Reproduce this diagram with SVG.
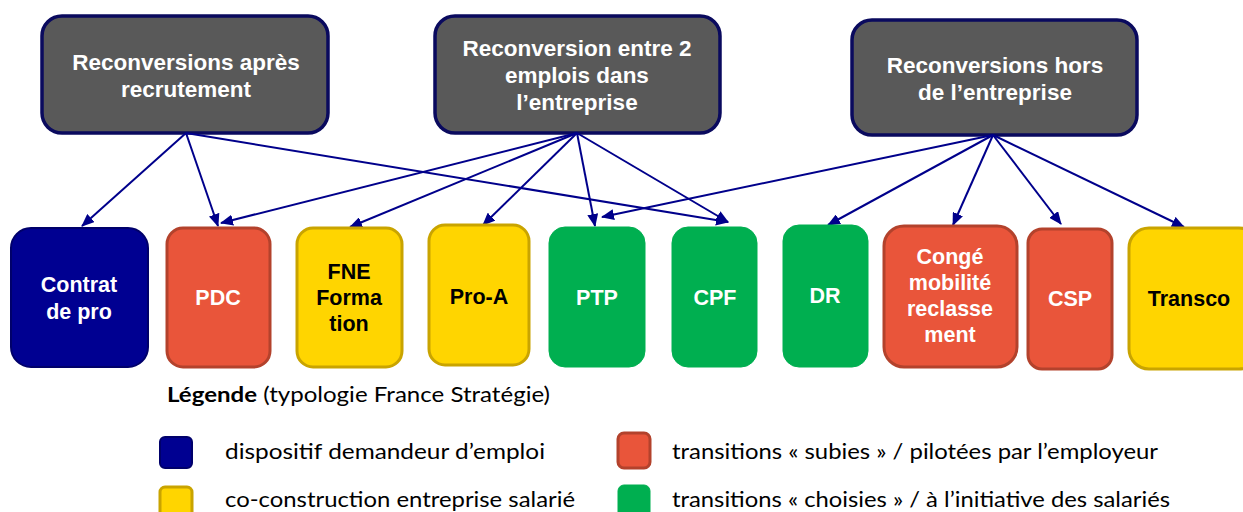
<svg xmlns="http://www.w3.org/2000/svg" width="1243" height="512" viewBox="0 0 1243 512">
<defs>
<marker id="ah" markerWidth="13" markerHeight="11" refX="12" refY="5.5" orient="auto" markerUnits="userSpaceOnUse">
<path d="M0,0 L13,5.5 L0,11 z" fill="#00008B"/>
</marker>
<style>
.top rect{fill:#595959;stroke:#0A0A5E;stroke-width:3.5}
.tt{font-family:"Liberation Sans",Arial,sans-serif;font-weight:bold;font-size:22.5px;fill:#fff;text-anchor:middle}
.bt{font-family:"Liberation Sans",Arial,sans-serif;font-weight:bold;font-size:21.5px;text-anchor:middle}
.w{fill:#fff}.k{fill:#000}
.navy{fill:#000091;stroke:#00006A;stroke-width:2}
.red{fill:#E9553A;stroke:#B3422C;stroke-width:3}
.yel{fill:#FFD500;stroke:#C9A400;stroke-width:3}
.grn{fill:#00AF50;stroke:#00AF50;stroke-width:1}
.conn line{stroke:#00008B;stroke-width:2;marker-end:url(#ah)}
.lg{font-family:Lato,"Open Sans",sans-serif;font-size:21px;fill:#000}
</style>
</defs>

<g id="top1" class="top"><rect x="42" y="16" width="286" height="117" rx="20"/>
<text class="tt" x="186" y="70">Reconversions après</text>
<text class="tt" x="186" y="97">recrutement</text></g>
<g id="top2" class="top"><rect x="435" y="16" width="285" height="117" rx="20"/>
<text class="tt" x="577" y="56">Reconversion entre 2</text>
<text class="tt" x="577" y="83">emplois dans</text>
<text class="tt" x="577" y="110">l’entreprise</text></g>
<g id="top3" class="top"><rect x="852" y="20" width="285" height="115" rx="20"/>
<text class="tt" x="995" y="73">Reconversions hors</text>
<text class="tt" x="995" y="100">de l’entreprise</text></g>

<g id="connectors" class="conn">
<line x1="186" y1="133" x2="82" y2="226"/>
<line x1="186" y1="133" x2="218" y2="226"/>
<line x1="186" y1="133" x2="728" y2="222"/>
<line x1="577" y1="133" x2="221" y2="223"/>
<line x1="577" y1="133" x2="350" y2="227"/>
<line x1="577" y1="133" x2="483" y2="225"/>
<line x1="577" y1="133" x2="595" y2="226"/>
<line x1="577" y1="133" x2="728" y2="222"/>
<line x1="993" y1="135" x2="602" y2="217"/>
<line x1="993" y1="135" x2="828" y2="225"/>
<line x1="993" y1="135" x2="953" y2="225"/>
<line x1="993" y1="135" x2="1061" y2="224"/>
<line x1="993" y1="135" x2="1184" y2="227"/>
</g>

<g id="contrat"><rect class="navy" x="11" y="228" width="137" height="139" rx="20"/>
<text class="bt w" x="79" y="292">Contrat</text><text class="bt w" x="79" y="319">de pro</text></g>
<g id="pdc"><rect class="red" x="167" y="228" width="103" height="139" rx="16"/>
<text class="bt w" x="218" y="305">PDC</text></g>
<g id="fne"><rect class="yel" x="297" y="228" width="105" height="139" rx="16"/>
<text class="bt k" x="349" y="279">FNE</text><text class="bt k" x="349" y="305">Forma</text><text class="bt k" x="349" y="331">tion</text></g>
<g id="proa"><rect class="yel" x="429" y="225" width="100" height="140" rx="16"/>
<text class="bt k" x="479" y="304">Pro-A</text></g>
<g id="ptp"><rect class="grn" x="549" y="227" width="96" height="140" rx="16"/>
<text class="bt w" x="597" y="305">PTP</text></g>
<g id="cpf"><rect class="grn" x="672" y="227" width="85" height="140" rx="16"/>
<text class="bt w" x="715" y="305">CPF</text></g>
<g id="dr"><rect class="grn" x="783" y="225" width="85" height="142" rx="16"/>
<text class="bt w" x="825" y="303">DR</text></g>
<g id="conge"><rect class="red" x="884" y="226" width="133" height="141" rx="20"/>
<text class="bt w" x="950" y="264">Congé</text><text class="bt w" x="950" y="290">mobilité</text><text class="bt w" x="950" y="316">reclasse</text><text class="bt w" x="950" y="342">ment</text></g>
<g id="csp"><rect class="red" x="1028" y="229" width="84" height="140" rx="14"/>
<text class="bt w" x="1070" y="306">CSP</text></g>
<g id="transco"><rect class="yel" x="1129" y="228" width="130" height="141" rx="20"/>
<text class="bt k" x="1189" y="306">Transco</text></g>

<g id="legend">
<text class="lg" x="167" y="402" textLength="383" lengthAdjust="spacingAndGlyphs"><tspan font-weight="bold">Légende</tspan> (typologie France Stratégie)</text>
<rect class="navy" x="160" y="437" width="32" height="31" rx="5"/>
<text class="lg" x="225" y="459" textLength="320" lengthAdjust="spacingAndGlyphs">dispositif demandeur d’emploi</text>
<rect class="red" x="618" y="433" width="32" height="35" rx="6"/>
<text class="lg" x="672" y="459" textLength="486" lengthAdjust="spacingAndGlyphs">transitions « subies » / pilotées par l’employeur</text>
<rect class="yel" x="160" y="487" width="32" height="34" rx="5"/>
<text class="lg" x="225" y="507" textLength="350" lengthAdjust="spacingAndGlyphs">co-construction entreprise salarié</text>
<rect class="grn" x="618" y="485" width="32" height="36" rx="6"/>
<text class="lg" x="672" y="507" textLength="498" lengthAdjust="spacingAndGlyphs">transitions « choisies » / à l’initiative des salariés</text>
</g>
</svg>
